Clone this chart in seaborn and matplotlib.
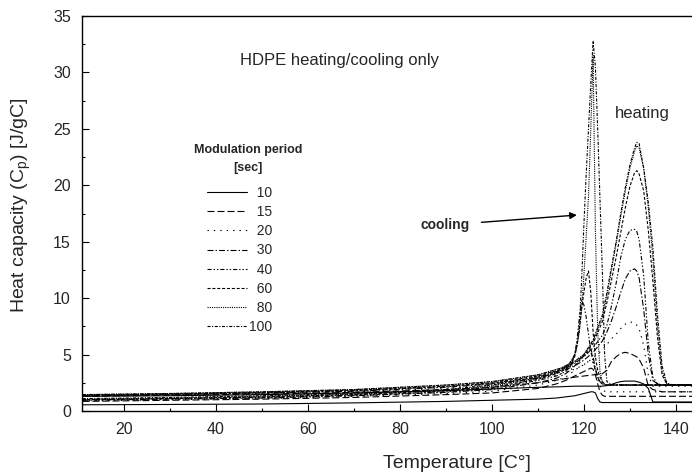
import matplotlib
matplotlib.use("Agg")
import matplotlib.pyplot as plt
from matplotlib.ticker import MultipleLocator
import seaborn as sns

# ---------------- data ----------------
periods = ["10", "15", "20", "30", "40", "60", "80", "100"]

heat_T = [11, 30, 50, 70, 90, 100, 110, 115, 118, 120, 122, 124, 125, 126, 127,
          128, 129, 130, 131, 131.5, 132, 133, 134, 135, 136, 137, 138, 139, 140, 143.5]
heat_10 = [1.3, 1.35, 1.45, 1.6, 1.8, 1.95, 2.1, 2.15, 2.2, 2.2, 2.2, 2.2, 2.25, 2.35, 2.5,
           2.6, 2.65, 2.65, 2.65, 2.6, 2.55, 2.4, 2.0, 0.8, 0.8, 0.8, 0.8, 0.8, 0.8, 0.8]
heat_15 = [1.3, 1.4, 1.5, 1.65, 1.9, 2.1, 2.5, 2.8, 3.0, 3.1, 3.2, 3.3, 3.6, 4.4, 4.8,
           5.1, 5.2, 5.1, 4.9, 4.8, 4.6, 3.8, 2.2, 1.9, 1.8, 1.7, 1.7, 1.7, 1.7, 1.7]
heat_20 = [1.35, 1.45, 1.55, 1.7, 2.0, 2.3, 2.8, 3.3, 3.7, 4.1, 4.7, 5.4, 5.9, 6.4, 6.8,
           7.3, 7.7, 7.9, 7.8, 7.6, 7.3, 5.8, 3.2, 2.2, 2.2, 2.2, 2.2, 2.2, 2.2, 2.2]
heat_30 = [1.35, 1.45, 1.6, 1.75, 2.1, 2.4, 2.9, 3.5, 4.0, 4.5, 5.2, 6.2, 7.0, 8.0, 9.2,
           10.5, 11.7, 12.4, 12.6, 12.4, 11.8, 9.0, 5.0, 2.7, 2.4, 2.3, 2.3, 2.3, 2.3, 2.3]
heat_40 = [1.4, 1.5, 1.6, 1.8, 2.15, 2.45, 3.0, 3.6, 4.2, 4.8, 5.6, 6.7, 7.6, 9.3, 11.3,
           13.6, 15.2, 16.0, 16.1, 15.9, 15.2, 12.0, 6.0, 3.0, 2.4, 2.3, 2.3, 2.3, 2.3, 2.3]
heat_60 = [1.4, 1.5, 1.65, 1.85, 2.2, 2.5, 3.1, 3.7, 4.3, 4.9, 6.0, 7.9, 9.6, 11.6, 13.6,
           15.8, 18.0, 19.9, 21.1, 21.3, 21.0, 19.5, 16.0, 11.5, 6.5, 3.2, 2.4, 2.3, 2.3, 2.3]
heat_80 = [1.45, 1.55, 1.7, 1.9, 2.3, 2.6, 3.2, 3.8, 4.4, 5.0, 6.2, 8.3, 10.2, 12.5, 14.8,
           17.2, 19.5, 21.5, 23.0, 23.5, 23.3, 21.5, 18.0, 13.5, 7.5, 3.5, 2.4, 2.3, 2.3, 2.3]
heat_100 = [1.45, 1.55, 1.7, 1.9, 2.3, 2.6, 3.2, 3.8, 4.4, 5.0, 6.3, 8.5, 10.5, 12.8, 15.0,
            17.5, 19.8, 21.8, 23.3, 23.8, 23.7, 21.5, 18.5, 14.5, 8.5, 4.0, 2.5, 2.35, 2.3, 2.3]

cool_T = [11, 30, 50, 70, 90, 100, 110, 114, 116, 117, 118, 118.5, 119, 119.5, 120,
          120.5, 121, 121.5, 122, 122.5, 123, 123.5, 124, 124.5, 125, 126, 130, 135, 140, 143.5]
cool_10 = [0.55, 0.58, 0.62, 0.72, 0.85, 0.95, 1.05, 1.15, 1.25, 1.3, 1.35, 1.4, 1.45, 1.5, 1.55,
           1.6, 1.65, 1.7, 1.7, 1.6, 1.1, 0.8, 0.75, 0.75, 0.75, 0.75, 0.75, 0.75, 0.75, 0.75]
cool_15 = [0.85, 0.95, 1.05, 1.2, 1.45, 1.6, 2.0, 2.4, 2.7, 2.9, 3.1, 3.2, 3.3, 3.4, 3.5,
           3.6, 3.7, 3.8, 3.7, 3.2, 2.4, 1.7, 1.4, 1.3, 1.3, 1.3, 1.3, 1.3, 1.3, 1.3]
cool_20 = [0.9, 1.0, 1.1, 1.3, 1.55, 1.75, 2.3, 2.7, 3.0, 3.3, 3.6, 3.75, 3.9, 4.0, 4.1,
           4.25, 4.4, 4.5, 4.3, 3.6, 2.8, 2.2, 1.9, 1.75, 1.7, 1.7, 1.7, 1.7, 1.7, 1.7]
cool_30 = [0.95, 1.05, 1.15, 1.35, 1.65, 1.9, 2.5, 2.9, 3.3, 3.6, 4.0, 4.2, 4.4, 4.7, 4.9,
           5.1, 5.3, 5.5, 4.8, 3.8, 3.0, 2.6, 2.4, 2.3, 2.3, 2.3, 2.3, 2.3, 2.3, 2.3]
cool_40 = [1.0, 1.1, 1.2, 1.4, 1.7, 2.0, 2.7, 3.1, 3.5, 3.9, 5.0, 6.3, 8.2, 9.8, 9.4,
           8.3, 6.8, 5.3, 4.4, 3.6, 3.0, 2.6, 2.4, 2.3, 2.3, 2.3, 2.3, 2.3, 2.3, 2.3]
cool_60 = [1.0, 1.1, 1.25, 1.45, 1.8, 2.1, 2.8, 3.3, 3.7, 4.0, 4.8, 5.8, 7.2, 9.0, 10.5,
           11.8, 12.4, 10.5, 7.0, 4.8, 3.6, 3.0, 2.6, 2.4, 2.3, 2.3, 2.3, 2.3, 2.3, 2.3]
cool_80 = [1.05, 1.15, 1.3, 1.5, 1.85, 2.2, 2.9, 3.4, 3.8, 4.2, 5.0, 5.8, 7.0, 9.0, 12.0,
           15.5, 19.0, 25.0, 31.5, 16.0, 7.0, 3.5, 2.6, 2.4, 2.3, 2.3, 2.3, 2.3, 2.3, 2.3]
cool_100 = [1.1, 1.2, 1.35, 1.55, 1.9, 2.3, 3.0, 3.5, 3.9, 4.3, 5.0, 5.8, 7.5, 11.5, 16.5,
            21.0, 25.0, 29.0, 32.8, 30.5, 25.0, 18.7, 12.5, 5.0, 2.6, 2.35, 2.3, 2.3, 2.3, 2.3]

x_ticks = [20, 40, 60, 80, 100, 120, 140]
y_ticks = [0, 5, 10, 15, 20, 25, 30, 35]

heating = [heat_10, heat_15, heat_20, heat_30, heat_40, heat_60, heat_80, heat_100]
cooling = [cool_10, cool_15, cool_20, cool_30, cool_40, cool_60, cool_80, cool_100]

# ---------------- styling ----------------
sns.set_style("ticks")
plt.rcParams["font.family"] = ["Liberation Sans", "DejaVu Sans"]
plt.rcParams["mathtext.default"] = "regular"
plt.rcParams["lines.scale_dashes"] = False

styles = [
    "-",
    (0, (5, 2.2)),
    (0, (1, 3.6)),
    (0, (4.3, 1.5, 1, 1.5)),
    (0, (3, 1.4, 1, 1.4, 1, 1.4)),
    (0, (2.2, 1.3)),
    (0, (0.8, 0.8)),
    (0, (2.2, 1.1, 0.8, 1.1)),
]

fig = plt.figure(figsize=(6.92, 4.73), dpi=100)
ax = fig.add_axes([82 / 692, 1 - 411 / 473, 1 - 82 / 692, (411 - 16) / 473])

handles = []
for p, hy, cy, ls in zip(periods, heating, cooling, styles):
    sns.lineplot(x=heat_T, y=hy, ax=ax, color="black", lw=0.8, linestyle=ls,
                 sort=False, legend=False)
    handles.append(ax.get_lines()[-1])
    sns.lineplot(x=cool_T, y=cy, ax=ax, color="black", lw=0.8, linestyle=ls,
                 sort=False, legend=False)

ax.set_xlim(10.9, 143.5)
ax.set_ylim(0, 35)
ax.set_xticks(x_ticks)
ax.set_yticks(y_ticks)
ax.xaxis.set_minor_locator(MultipleLocator(10))
ax.yaxis.set_minor_locator(MultipleLocator(2.5))
ax.tick_params(which="both", direction="in", width=0.8, color="black",
               labelsize=11.5, top=False, right=False)
ax.tick_params(which="major", length=5, pad=8)
ax.tick_params(which="minor", length=2.5)
for s in ["left", "bottom", "top"]:
    ax.spines[s].set_visible(True)
    ax.spines[s].set_linewidth(1.0)
    ax.spines[s].set_color("black")
ax.spines["right"].set_visible(False)

ax.set_xlabel("Temperature [C°]", fontsize=14)
ax.set_ylabel("Heat capacity (C$_{p}$) [J/gC]", fontsize=14)
ax.xaxis.set_label_coords((457 - 82) / 610, -44 / 395)
ax.yaxis.set_label_coords(-(82 - 33) / 610, 0.5 + (213 - 205) / 395)

# annotations
fig.text(240 / 692, 1 - 60 / 473, "HDPE heating/cooling only", fontsize=12,
         ha="left", va="center")
fig.text(642 / 692, 1 - 113 / 473, "heating", fontsize=12, ha="center", va="center")
ax.annotate("cooling", xy=(20 + (577 - 124) / 4.6, (411 - 215) / 11.29),
            xytext=(20 + (470 - 124) / 4.6, (411 - 225) / 11.29),
            fontsize=10, fontweight="bold", ha="right", va="center",
            arrowprops=dict(arrowstyle="-|>", color="black", lw=1.0,
                            mutation_scale=10, shrinkA=6, shrinkB=0))

fig.text(248 / 692, 1 - 150 / 473, "Modulation period", fontsize=9,
         fontweight="bold", ha="center", va="center")
fig.text(248 / 692, 1 - 168 / 473, "[sec]", fontsize=9, fontweight="bold",
         ha="center", va="center")

labels = [("\u2007" * (3 - len(p))) + p for p in periods]
leg = ax.legend(handles, labels, loc="upper left",
                bbox_to_anchor=(207 / 692, 1 - 186 / 473),
                bbox_transform=fig.transFigure, frameon=False, fontsize=10,
                handlelength=2.85, handletextpad=0.2, labelspacing=0.37,
                borderpad=0, borderaxespad=0)

fig.savefig("out.png", dpi=100)
